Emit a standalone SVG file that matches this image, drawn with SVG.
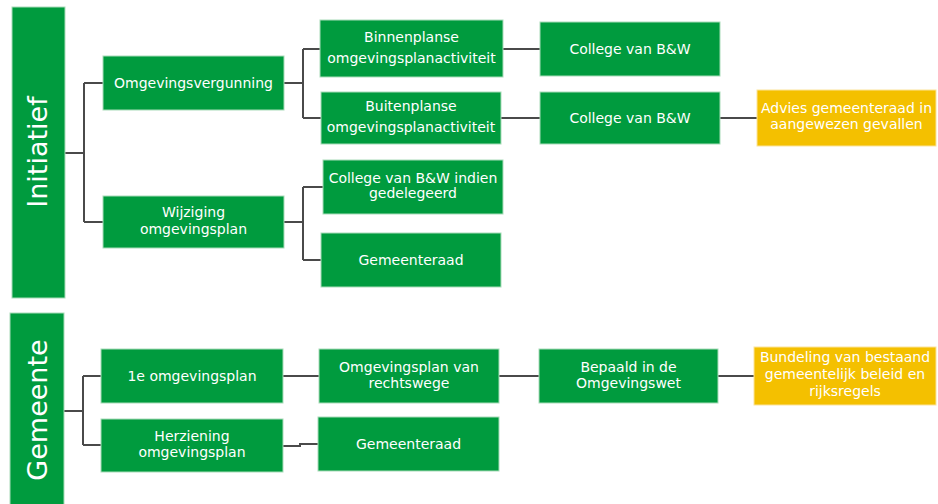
<svg xmlns="http://www.w3.org/2000/svg" width="938" height="504" viewBox="0 0 938 504">
<style>
.g{fill:#009B3E;stroke:#a9dcb9;stroke-width:1}
.y{fill:#F4C000;stroke:#fbe39a;stroke-width:1}
.t{font-family:"DejaVu Sans",Verdana,sans-serif;font-size:14px;fill:#fff;text-anchor:middle}
.v{font-family:"DejaVu Sans",Verdana,sans-serif;font-size:27px;fill:#fff;text-anchor:middle}
.c{fill:none;stroke:#4a4a4a;stroke-width:2}
</style>
<rect width="938" height="504" fill="#fff"/>
<g id="connectors">
<path class="c" d="M65,153H84M84,83V222M84,83H103M84,222H103"/>
<path class="c" d="M284,83H303M303,49V118M303,49H320M303,118H321"/>
<path class="c" d="M503,49H540M501,118H540M720,118H757"/>
<path class="c" d="M284,222H303M303,187V260M303,187H323M303,260H321"/>
<path class="c" d="M64,411H83M83,376V445M83,376H101M83,445H101"/>
<path class="c" d="M283,376H319M499,376H539M718,376H754"/>
<path class="c" d="M283,446H300V444H318"/>
</g>
<g id="initiatief"><rect class="g" x="12" y="7" width="53" height="291"/><text class="v" transform="translate(47,152) rotate(-90)">Initiatief</text></g>
<g id="omgevingsvergunning"><rect class="g" x="103" y="56" width="181" height="54"/><text class="t" x="193.5" y="88">Omgevingsvergunning</text></g>
<g id="wijziging"><rect class="g" x="103" y="196" width="181" height="52"/><text class="t" x="193.5" y="217">Wijziging</text><text class="t" x="193.5" y="234">omgevingsplan</text></g>
<g id="binnenplanse"><rect class="g" x="320" y="20" width="183" height="57"/><text class="t" x="411.5" y="42">Binnenplanse</text><text class="t" x="411.5" y="63">omgevingsplanactiviteit</text></g>
<g id="buitenplanse"><rect class="g" x="321" y="92" width="180" height="52"/><text class="t" x="411" y="111">Buitenplanse</text><text class="t" x="411" y="132">omgevingsplanactiviteit</text></g>
<g id="college1"><rect class="g" x="540" y="22" width="180" height="54"/><text class="t" x="630" y="54">College van B&amp;W</text></g>
<g id="college2"><rect class="g" x="540" y="92" width="180" height="52"/><text class="t" x="630" y="123">College van B&amp;W</text></g>
<g id="advies"><rect class="y" x="757" y="90" width="179" height="56"/><text class="t" x="846.5" y="113">Advies gemeenteraad in</text><text class="t" x="846.5" y="129">aangewezen gevallen</text></g>
<g id="college-indien"><rect class="g" x="323" y="160" width="180" height="54"/><text class="t" x="413" y="183">College van B&amp;W indien</text><text class="t" x="413" y="198">gedelegeerd</text></g>
<g id="gemeenteraad1"><rect class="g" x="321" y="233" width="180" height="54"/><text class="t" x="411" y="265">Gemeenteraad</text></g>
<g id="gemeente"><rect class="g" x="10" y="313" width="54" height="195"/><text class="v" transform="translate(47,410) rotate(-90)">Gemeente</text></g>
<g id="eerste-omgevingsplan"><rect class="g" x="101" y="349" width="182" height="54"/><text class="t" x="192" y="381">1e omgevingsplan</text></g>
<g id="herziening"><rect class="g" x="101" y="419" width="182" height="53"/><text class="t" x="192" y="441">Herziening</text><text class="t" x="192" y="457">omgevingsplan</text></g>
<g id="rechtswege"><rect class="g" x="319" y="349" width="180" height="54"/><text class="t" x="409" y="372">Omgevingsplan van</text><text class="t" x="409" y="388">rechtswege</text></g>
<g id="bepaald"><rect class="g" x="539" y="349" width="179" height="54"/><text class="t" x="628.5" y="372">Bepaald in de</text><text class="t" x="628.5" y="388">Omgevingswet</text></g>
<g id="bundeling"><rect class="y" x="754" y="347" width="182" height="58"/><text class="t" x="845" y="362">Bundeling van bestaand</text><text class="t" x="845" y="379">gemeentelijk beleid en</text><text class="t" x="845" y="396">rijksregels</text></g>
<g id="gemeenteraad2"><rect class="g" x="318" y="417" width="181" height="54"/><text class="t" x="408.5" y="449">Gemeenteraad</text></g>
</svg>
